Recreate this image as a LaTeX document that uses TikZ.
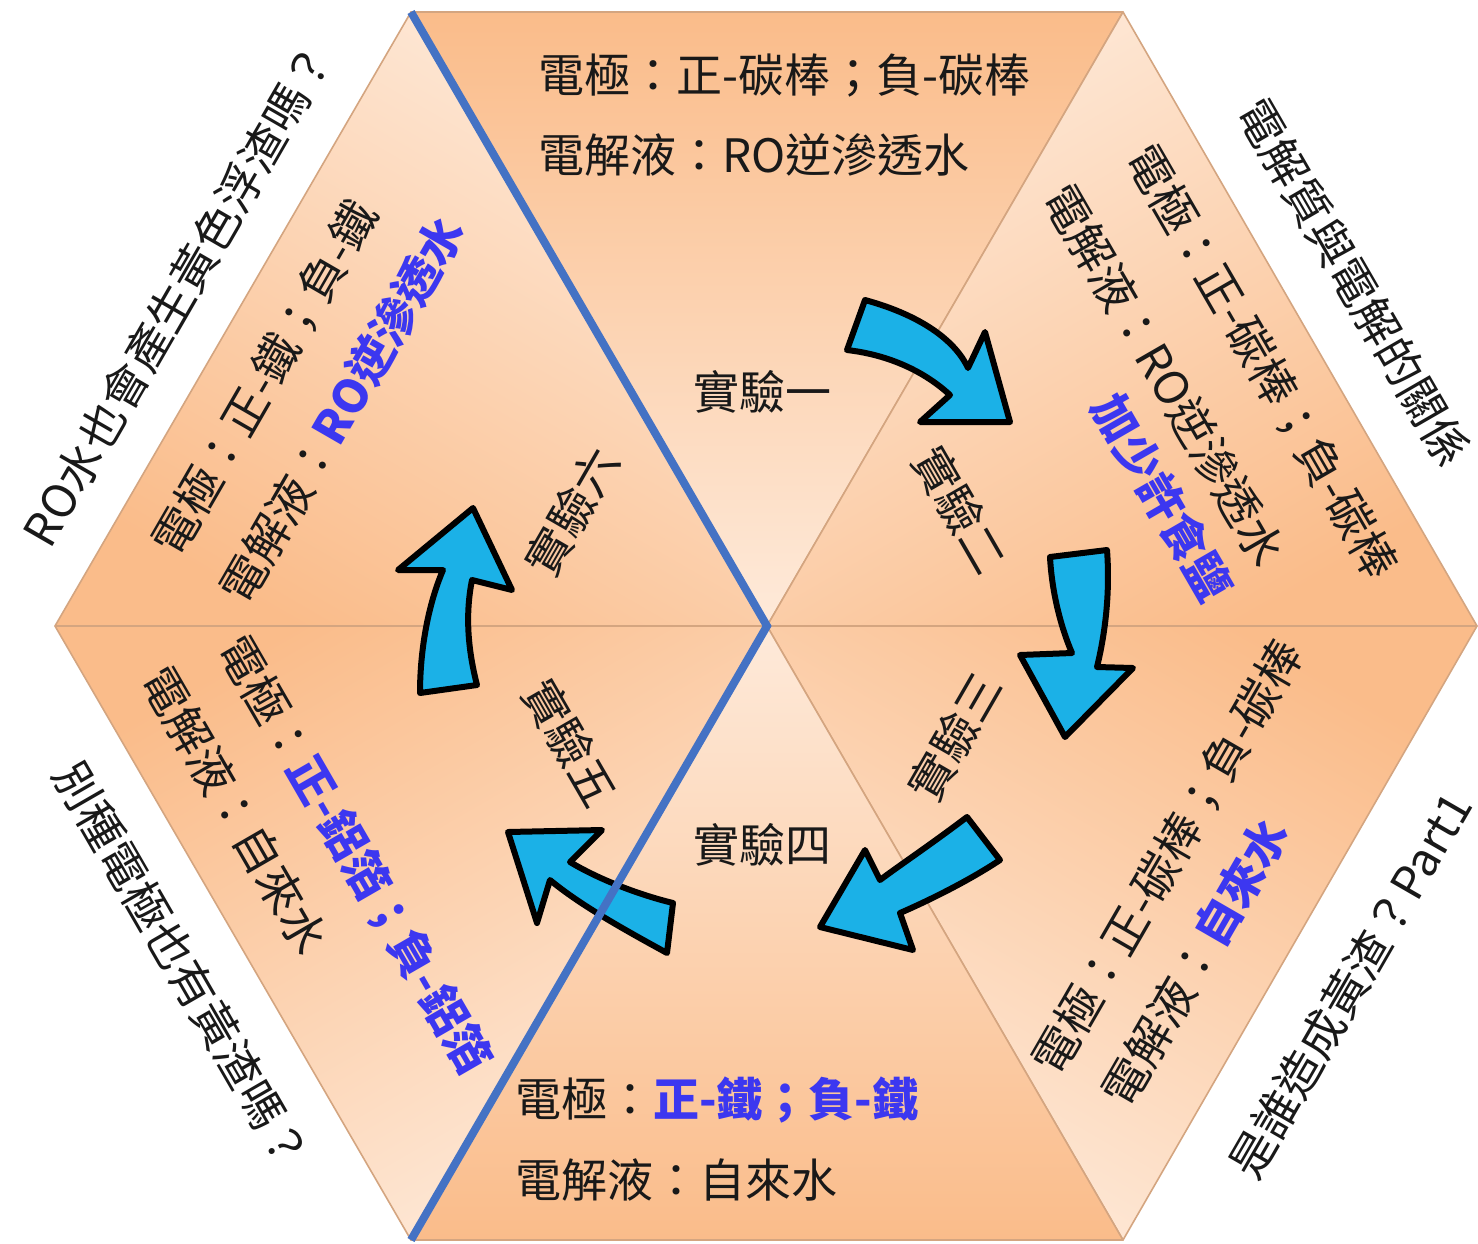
\documentclass[tikz,border=0pt]{standalone}
\usepackage{fontspec}
\setmainfont{Noto Sans CJK TC}
\definecolor{orng}{RGB}{250,188,138}
\definecolor{lite}{RGB}{254,234,218}
\definecolor{edgec}{RGB}{212,165,128}
\definecolor{bline}{RGB}{68,114,196}
\definecolor{arrc}{RGB}{27,177,231}
\definecolor{txtb}{RGB}{60,55,240}
\definecolor{txtk}{RGB}{25,25,25}
\tikzset{
  lbl/.style={font=\fontsize{46}{54}\selectfont, text=txtk, inner sep=0pt},
  tri/.style={draw=edgec, line width=1.6pt, line join=round},
  arrshape/.style={fill=arrc, draw=black, line width=6pt, line join=round},
}
\newcommand{\blu}[1]{\textcolor{txtb}{\bfseries #1}}
\begin{document}
\begin{tikzpicture}[x=1pt,y=-1pt]
\useasboundingbox (0,0) rectangle (1478,1243);
\fill[white] (0,0) rectangle (1478,1243);
\coordinate (O) at (767,626);
\coordinate (TL) at (411,12);
\coordinate (TR) at (1123,12);
\coordinate (R) at (1477,626);
\coordinate (BR) at (1123,1240);
\coordinate (BL) at (411,1240);
\coordinate (L) at (55,626);
% triangles
\shade[tri, top color=orng, bottom color=lite] (TL) -- (TR) -- (O) -- cycle;
\shade[tri, top color=lite, bottom color=orng, shading angle=30] (TR) -- (R) -- (O) -- cycle;
\shade[tri, top color=orng, bottom color=lite, shading angle=-30] (O) -- (R) -- (BR) -- cycle;
\shade[tri, top color=lite, bottom color=orng] (O) -- (BR) -- (BL) -- cycle;
\shade[tri, top color=orng, bottom color=lite, shading angle=30] (O) -- (BL) -- (L) -- cycle;
\shade[tri, top color=lite, bottom color=orng, shading angle=-30] (O) -- (L) -- (TL) -- cycle;
% arrows
\draw[arrshape] (865,300) .. controls (920,315) and (955,340) .. (968,368) -- (985,332) -- (1010,422) -- (920,422) -- (950,395) .. controls (925,372) and (890,355) .. (847,350) -- cycle;
\draw[arrshape] (1050,557) .. controls (1052,595) and (1062,630) .. (1072,653) -- (1020,655) -- (1065,737) -- (1133,668) -- (1097,667) .. controls (1106,630) and (1110,590) .. (1107,550) -- cycle;
\draw[arrshape] (967,817) .. controls (930,845) and (900,865) .. (880,880) -- (865,850) -- (820,927) -- (913,950) -- (900,913) .. controls (930,900) and (970,880) .. (1000,860) -- cycle;
\draw[arrshape] (673,903) .. controls (640,895) and (600,880) .. (570,862) -- (602,830) -- (508,832) -- (537,923) -- (550,880) .. controls (580,905) and (625,930) .. (667,953) -- cycle;
\draw[arrshape] (420,693) .. controls (420,650) and (428,605) .. (443,570) -- (398,570) -- (473,508) -- (512,590) -- (472,580) .. controls (465,615) and (468,650) .. (477,685) -- cycle;
% blue line
\draw[bline, line width=8pt, line join=miter] (TL) -- (O) -- (BL);
% top
\node[lbl, anchor=west] (t1) at (538,76) {電極：正-碳棒；負-碳棒};
\node[lbl, anchor=west] (t2) at (538,155) {電解液：RO逆滲透水};
\node[lbl] (e1) at (762,392) {實驗一};
% upper right
\node[lbl, rotate=-60] (ur1) at (1262,362) {電極：正-碳棒；負-碳棒};
\node[lbl, rotate=-60] (ur2) at (1165,375) {電解液：RO逆滲透水};
\node[lbl, rotate=-60] (ur3) at (1162,497) {\blu{加少許食鹽}};
\node[lbl, rotate=-60] (e2) at (960,510) {實驗二};
\node[lbl, rotate=-60] (q1) at (1354,282) {電解質與電解的關係};
% lower right
\node[lbl, rotate=60] (lr1) at (1168,857) {電極：正-碳棒；負-碳棒};
\node[lbl, rotate=60] (lr2) at (1195,962) {電解液：\blu{自來水}};
\node[lbl, rotate=60] (e3) at (955,737) {實驗三};
\node[lbl, rotate=60] (q2) at (1350,985) {是誰造成黃渣？Part1};
% bottom
\node[lbl, anchor=west] (b1) at (515,1100) {電極：\blu{正-鐵；負-鐵}};
\node[lbl, anchor=west] (b2) at (515,1180) {電解液：自來水};
\node[lbl] (e4) at (762,845) {實驗四};
% lower left
\node[lbl, rotate=-60] (ll1) at (355,855) {電極：\blu{正-鋁箔；負-鋁箔}};
\node[lbl, rotate=-60] (ll2) at (235,810) {電解液：自來水};
\node[lbl, rotate=-60] (e5) at (570,743) {實驗五};
\node[lbl, rotate=-60] (q3) at (182,965) {別種電極也有黃渣嗎？};
% upper left
\node[lbl, rotate=60] (ul1) at (265,378) {電極：正-鐵；負-鐵};
\node[lbl, rotate=60] (ul2) at (342,410) {電解液：\blu{RO逆滲透水}};
\node[lbl, rotate=60] (e6) at (572,512) {實驗六};
\node[lbl, rotate=60] (q4) at (178,295) {RO水也會產生黃色浮渣嗎？};
\end{tikzpicture}
\end{document}
